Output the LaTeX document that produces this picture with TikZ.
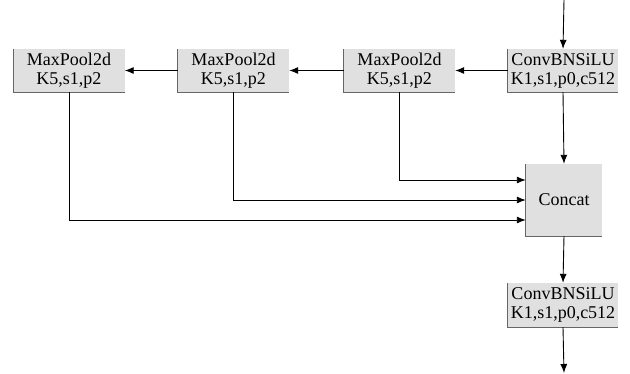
\documentclass[tikz,border=0pt]{standalone}
\usepackage{fontspec}
\newfontfamily\tnr{Liberation Serif}
\usetikzlibrary{arrows.meta}
\begin{document}
\begin{tikzpicture}[x=1pt,y=-1pt,
  blk/.style={fill=black!12, inner sep=0pt, align=center,
    font=\tnr\fontsize{18}{19}\selectfont, text=black},
  edge/.style={draw=black!60, line width=0.7pt},
  arr/.style={draw=black, line width=0.9pt, -{Latex[length=9pt,width=7pt]}}]
\useasboundingbox (0,0) rectangle (630,373);
\node[blk, minimum width=111pt, minimum height=43pt] (p1) at (69,70.5) {MaxPool2d\\K5,s1,p2};
\node[blk, minimum width=111pt, minimum height=43pt] (p2) at (233.5,70.5) {MaxPool2d\\K5,s1,p2};
\node[blk, minimum width=111pt, minimum height=43pt] (p3) at (399.5,70.5) {MaxPool2d\\K5,s1,p2};
\node[blk, minimum width=110pt, minimum height=43pt] (c1) at (563,70.5) {ConvBNSiLU\\K1,s1,p0,c512};
\node[blk, minimum width=76pt, minimum height=72pt] (cat) at (564,200) {Concat};
\node[blk, minimum width=110pt, minimum height=44pt] (c2) at (563,305) {ConvBNSiLU\\K1,s1,p0,c512};
\foreach \n in {p1,p2,p3,c1,cat,c2}{
  \draw[edge] (\n.north west) |- (\n.south east);
}
\coordinate (in) at (564,0);
\coordinate (out) at (564,373);
\draw[arr] (in) -- (c1.north);
\draw[arr] (c1.west) -- (p3.east);
\draw[arr] (p3.west) -- (p2.east);
\draw[arr] (p2.west) -- (p1.east);
\draw[arr] (c1.south) -- (cat.north);
\draw[arr] (p3.south) |- ([yshift=20pt]cat.west);
\draw[arr] (p2.south) |- (cat.west);
\draw[arr] (p1.south) |- ([yshift=-20pt]cat.west);
\draw[arr] (cat.south) -- (c2.north);
\draw[arr] (c2.south) -- (out);
\end{tikzpicture}
\end{document}
